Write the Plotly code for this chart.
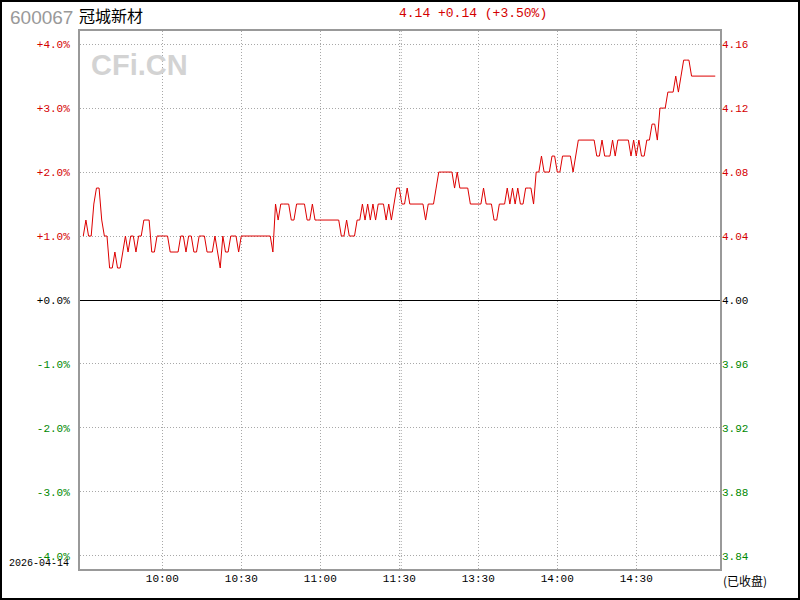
import plotly.graph_objects as go

code = "600067"
name = "冠城新材"
trade_date = "2026-04-14"
prev_close = 4.00
last_price = 4.14
status_text = "(已收盘)"
watermark = "CFi.CN"

# minute-by-minute price, 9:30 .. 11:30 (121 pts) + 13:01 .. 15:00 (120 pts)
prices = [
    4.04, 4.05, 4.04, 4.04, 4.06, 4.07, 4.07, 4.05, 4.04, 4.04,
    4.02, 4.02, 4.03, 4.02, 4.02, 4.03, 4.04, 4.03, 4.04, 4.04,
    4.03, 4.04, 4.04, 4.05, 4.05, 4.05, 4.03, 4.03, 4.04, 4.04,
    4.04, 4.04, 4.04, 4.03, 4.03, 4.03, 4.03, 4.04, 4.04, 4.03,
    4.04, 4.04, 4.03, 4.03, 4.04, 4.04, 4.04, 4.03, 4.03, 4.03,
    4.04, 4.03, 4.02, 4.04, 4.03, 4.03, 4.04, 4.04, 4.04, 4.03,
    4.04, 4.04, 4.04, 4.04, 4.04, 4.04, 4.04, 4.04, 4.04, 4.04,
    4.04, 4.04, 4.03, 4.06, 4.05, 4.06, 4.06, 4.06, 4.06, 4.05,
    4.05, 4.06, 4.06, 4.06, 4.06, 4.05, 4.05, 4.06, 4.05, 4.05,
    4.05, 4.05, 4.05, 4.05, 4.05, 4.05, 4.05, 4.05, 4.04, 4.04,
    4.05, 4.04, 4.04, 4.04, 4.05, 4.05, 4.06, 4.05, 4.06, 4.05,
    4.06, 4.05, 4.06, 4.06, 4.06, 4.05, 4.06, 4.05, 4.06, 4.07,
    4.07, 4.06, 4.06, 4.07, 4.06, 4.06, 4.06, 4.06, 4.06, 4.06,
    4.05, 4.06, 4.06, 4.06, 4.07, 4.08, 4.08, 4.08, 4.08, 4.08,
    4.08, 4.07, 4.08, 4.07, 4.07, 4.07, 4.07, 4.06, 4.06, 4.06,
    4.06, 4.06, 4.07, 4.06, 4.06, 4.06, 4.05, 4.05, 4.06, 4.06,
    4.06, 4.07, 4.06, 4.07, 4.06, 4.07, 4.06, 4.06, 4.07, 4.07,
    4.07, 4.06, 4.08, 4.08, 4.09, 4.08, 4.08, 4.08, 4.09, 4.09,
    4.08, 4.08, 4.09, 4.09, 4.09, 4.09, 4.08, 4.09, 4.10, 4.10,
    4.10, 4.10, 4.10, 4.10, 4.10, 4.09, 4.09, 4.10, 4.09, 4.09,
    4.09, 4.10, 4.09, 4.10, 4.10, 4.10, 4.10, 4.10, 4.09, 4.10,
    4.09, 4.10, 4.09, 4.09, 4.10, 4.10, 4.11, 4.11, 4.10, 4.12,
    4.12, 4.12, 4.13, 4.13, 4.13, 4.14, 4.13, 4.14, 4.15, 4.15,
    4.15, 4.14, 4.14, 4.14, 4.14, 4.14, 4.14, 4.14, 4.14, 4.14,
    4.14,
]

time_tick_minutes = [30, 60, 90, 120, 150, 180, 210]
time_tick_labels = ["10:00", "10:30", "11:00", "11:30", "13:30", "14:00", "14:30"]
pct_ticks = [-4, -3, -2, -1, 0, 1, 2, 3, 4]
price_ticks = [3.84, 3.88, 3.92, 3.96, 4.00, 4.04, 4.08, 4.12, 4.16]

RED = "#d40000"
GREEN = "#008800"
GRID = "#a8a8a8"
MONO = "Liberation Mono, DejaVu Sans Mono, monospace"

minutes = list(range(len(prices)))
pcts = [(p - prev_close) / prev_close * 100 for p in prices]

def col(v):
    return RED if v > 1e-9 else (GREEN if v < -1e-9 else "#000000")

pct_text = [f'<span style="color:{col(v)}">{"+" if v >= 0 else ""}{v:.1f}%</span>' for v in pct_ticks]
price_text = [f'<span style="color:{col(v - prev_close)}">{v:.2f}</span>' for v in price_ticks]

PR = 4.205
fig = go.Figure()
fig.add_trace(go.Scatter(x=minutes, y=pcts, mode="lines",
                         line=dict(color="#dd0000", width=1), hoverinfo="skip",
                         showlegend=False, yaxis="y"))
fig.add_trace(go.Scatter(x=minutes, y=prices, mode="lines",
                         line=dict(color="rgba(0,0,0,0)", width=0), hoverinfo="skip",
                         showlegend=False, yaxis="y2"))

chg = last_price - prev_close
title = f"{last_price:.2f} {'+' if chg >= 0 else ''}{chg:.2f} ({'+' if chg >= 0 else ''}{chg / prev_close * 100:.2f}%)"

fig.update_layout(
    width=800, height=600, autosize=False,
    margin=dict(l=80, r=80, t=31, b=31),
    paper_bgcolor="white", plot_bgcolor="white",
    xaxis=dict(range=[-1.25, 241.8], tickvals=time_tick_minutes, ticktext=time_tick_labels,
               showgrid=True, gridcolor=GRID, griddash="1px,2px", gridwidth=1,
               showline=True, mirror=True, linecolor="#999999", linewidth=2,
               ticks="", ticklabelstandoff=-2, zeroline=False,
               tickfont=dict(family=MONO, size=11, color="black")),
    yaxis=dict(range=[-PR, PR], tickvals=pct_ticks, ticktext=pct_text,
               showgrid=True, gridcolor=GRID, griddash="1px,2px", gridwidth=1,
               zeroline=True, zerolinecolor="black", zerolinewidth=1,
               showline=True, mirror=True, linecolor="#999999", linewidth=2,
               ticks="", ticklabelstandoff=6,
               tickfont=dict(family=MONO, size=11)),
    yaxis2=dict(range=[prev_close * (1 - PR / 100), prev_close * (1 + PR / 100)],
                overlaying="y", side="right", tickvals=price_ticks, ticktext=price_text,
                showgrid=False, zeroline=False, showline=False, ticks="",
                ticklabelstandoff=1, tickfont=dict(family=MONO, size=11)),
    shapes=[
        dict(type="line", xref="x", yref="paper", x0=120.76, x1=120.76, y0=0, y1=1,
             line=dict(color=GRID, width=1, dash="1px,2px")),
        dict(type="rect", xref="paper", yref="paper",
             x0=-79 / 640, x1=719 / 640, y0=-30 / 538, y1=1 + 30 / 538,
             line=dict(color="black", width=2)),
    ],
    annotations=[
        dict(text=code, xref="paper", yref="paper", x=(8 - 80) / 640, y=(569 - 17) / 538,
             xanchor="left", yanchor="middle", showarrow=False,
             font=dict(family="Liberation Sans, Arial", size=19, color="#999999")),
        dict(text=name, xref="paper", yref="paper", x=(77 - 80) / 640, y=(569 - 15) / 538,
             xanchor="left", yanchor="middle", showarrow=False,
             font=dict(family="Noto Sans CJK SC", size=16, color="black")),
        dict(text=title, xref="paper", yref="paper", x=(397 - 80) / 640, y=(569 - 14) / 538,
             xanchor="left", yanchor="middle", showarrow=False,
             font=dict(family=MONO, size=13, color=RED)),
        dict(text=watermark, xref="paper", yref="paper", x=(89 - 80) / 640, y=(569 - 64.5) / 538,
             xanchor="left", yanchor="middle", showarrow=False,
             font=dict(family="Liberation Sans, Arial", size=29, color="#d3d3d3", weight="bold")),
        dict(text=trade_date, xref="paper", yref="paper", x=(7 - 80) / 640, y=(569 - 563) / 538,
             xanchor="left", yanchor="middle", showarrow=False,
             font=dict(family=MONO, size=10, color="black")),
        dict(text=status_text, xref="paper", yref="paper", x=(721 - 80) / 640, y=(569 - 580) / 538,
             xanchor="left", yanchor="middle", showarrow=False,
             font=dict(family="Noto Sans CJK SC", size=12, color="black")),
    ],
)

fig.write_html("out.html", config={"displayModeBar": False},
               post_script="document.body.style.margin='0';document.body.style.overflow='hidden';")
